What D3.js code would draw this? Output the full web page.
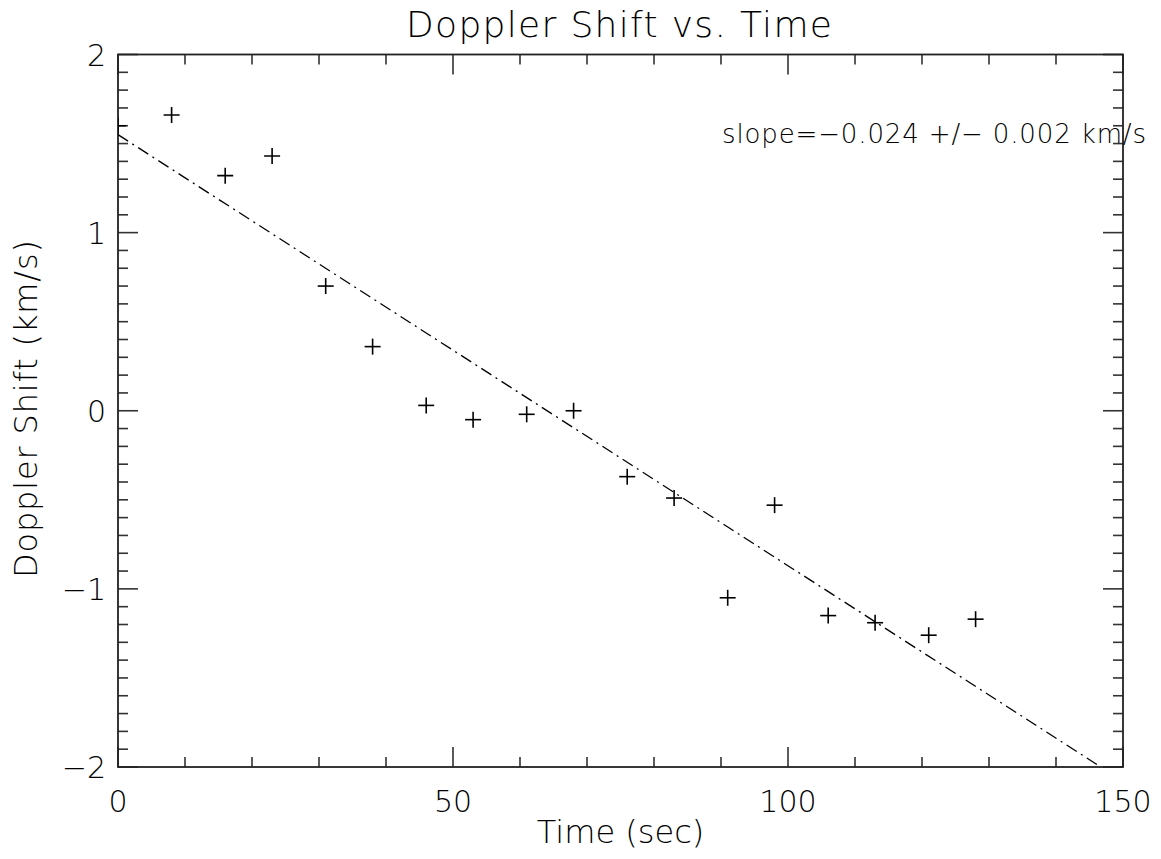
<!DOCTYPE html>
<html lang="en">
<head>
    <meta charset="UTF-8">
    <title>Doppler Shift vs. Time</title>
    <script src="https://d3js.org/d3.v7.min.js"></script>
    <style>
        body { margin: 0; background: #fff; }
        text { font-family: 'DejaVu Sans', 'Liberation Sans', sans-serif; font-weight: 200; fill: #000; }
    </style>
</head>
<body>
    <script>
        // data
        let times = [0, 8, 16, 23, 31, 38, 46, 53, 61, 68, 76, 83, 91, 98, 106, 113, 121, 128];
        let shifts = [1.60, 1.66, 1.32, 1.43, 0.70, 0.36, 0.03, -0.05, -0.02, 0.00, -0.37, -0.49, -1.05, -0.53, -1.15, -1.19, -1.26, -1.17];
        let fitIntercept = 1.55;
        let fitSlope = -0.0242;
        let xTicks = [0, 50, 100, 150];
        let yTicks = [-2, -1, 0, 1, 2];

        let width = 1161;
        let height = 859;
        let pLeft = 118, pRight = 1123, pTop = 54.5, pBottom = 767;

        let x = d3.scaleLinear().domain([0, 150]).range([pLeft, pRight]);
        let y = d3.scaleLinear().domain([-2, 2]).range([pBottom, pTop]);

        let svg = d3.select('body').append('svg')
            .attr('width', width)
            .attr('height', height);

        svg.append('clipPath').attr('id', 'plotclip')
            .append('rect')
            .attr('x', pLeft).attr('y', pTop)
            .attr('width', pRight - pLeft).attr('height', pBottom - pTop);

        // minor/major ticks on all four sides
        let xMinor = d3.range(0, 151, 10);
        let yMinor = d3.range(-20, 21).map(d => d / 10);
        let tickLen = d => (d % 50 === 0 ? 20 : 10);
        let yTickLen = d => (Math.abs(d - Math.round(d)) < 1e-9 ? 20 : 10);

        let ticks = svg.append('g').attr('stroke', '#333').attr('stroke-width', 1.6);
        xMinor.forEach(d => {
            ticks.append('line').attr('x1', x(d)).attr('x2', x(d)).attr('y1', pBottom).attr('y2', pBottom - tickLen(d));
            ticks.append('line').attr('x1', x(d)).attr('x2', x(d)).attr('y1', pTop).attr('y2', pTop + tickLen(d));
        });
        yMinor.forEach(d => {
            ticks.append('line').attr('x1', pLeft).attr('x2', pLeft + yTickLen(d)).attr('y1', y(d)).attr('y2', y(d));
            ticks.append('line').attr('x1', pRight).attr('x2', pRight - yTickLen(d)).attr('y1', y(d)).attr('y2', y(d));
        });

        // frame
        svg.append('rect')
            .attr('x', pLeft).attr('y', pTop)
            .attr('width', pRight - pLeft).attr('height', pBottom - pTop)
            .attr('fill', 'none')
            .attr('stroke', '#222')
            .attr('stroke-width', 1.8);

        // tick labels
        svg.selectAll('.xlab').data(xTicks).enter().append('text')
            .attr('x', d => x(d))
            .attr('y', 812)
            .attr('text-anchor', 'middle')
            .style('font-size', '30px')
            .text(d => d);

        svg.selectAll('.ylab').data(yTicks).enter().append('text')
            .attr('x', 106)
            .attr('y', d => y(d) + 11)
            .attr('text-anchor', 'end')
            .style('font-size', '30px')
            .text(d => (d < 0 ? '\u2212' + Math.abs(d) : d));

        // fit line
        let fitEnd = (-2 - fitIntercept) / fitSlope;
        svg.append('line')
            .attr('clip-path', 'url(#plotclip)')
            .attr('x1', x(0)).attr('y1', y(fitIntercept))
            .attr('x2', x(fitEnd)).attr('y2', y(fitIntercept + fitSlope * fitEnd))
            .attr('stroke', '#000')
            .attr('stroke-width', 1.3)
            .attr('stroke-dasharray', '12,5,2,5');

        // plus symbols
        let pts = svg.append('g').attr('clip-path', 'url(#plotclip)')
            .attr('stroke', '#000').attr('stroke-width', 1.6);
        times.forEach((t, i) => {
            let cx = x(t), cy = y(shifts[i]);
            pts.append('line').attr('x1', cx - 8).attr('x2', cx + 8).attr('y1', cy).attr('y2', cy);
            pts.append('line').attr('x1', cx).attr('x2', cx).attr('y1', cy - 8).attr('y2', cy + 8);
        });

        // titles
        svg.append('text')
            .attr('x', 406)
            .attr('y', 37)
            .attr('textLength', 426)
            .attr('lengthAdjust', 'spacing')
            .style('font-size', '36px')
            .text('Doppler Shift vs. Time');

        svg.append('text')
            .attr('x', (pLeft + pRight) / 2)
            .attr('y', 843)
            .attr('text-anchor', 'middle')
            .style('font-size', '32px')
            .text('Time (sec)');

        svg.append('text')
            .attr('transform', 'translate(37,578) rotate(-90)')
            .attr('textLength', 338)
            .attr('lengthAdjust', 'spacing')
            .style('font-size', '32px')
            .text('Doppler Shift (km/s)');

        svg.append('text')
            .attr('x', 722)
            .attr('y', 143)
            .attr('textLength', 424)
            .attr('lengthAdjust', 'spacing')
            .style('font-size', '26px')
            .text('slope=\u22120.024 +/\u2212 0.002 km/s');
    </script>
</body>
</html>
